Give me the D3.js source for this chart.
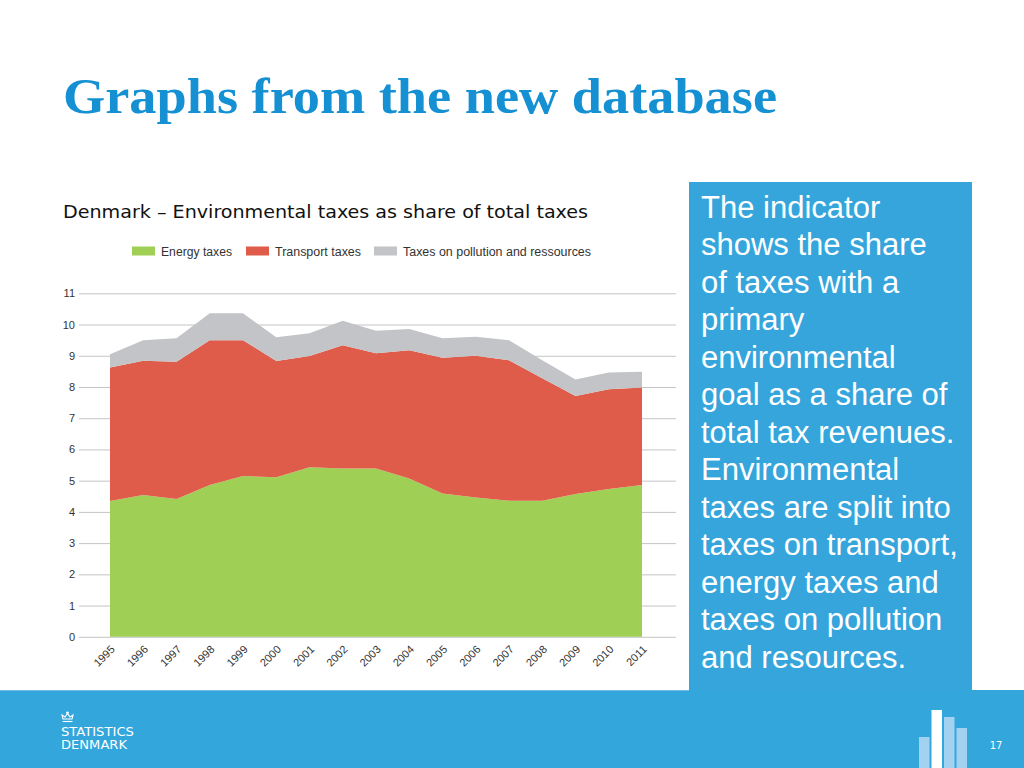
<!DOCTYPE html>
<html>
<head>
<meta charset="utf-8">
<script src="https://cdn.jsdelivr.net/npm/d3@7"></script>
<style>
  html, body { margin: 0; padding: 0; background: #fff; }
  svg { display: block; }
</style>
</head>
<body>
<svg id="chart" width="1024" height="768"></svg>
<script>
// ---------- DATA ----------
const years = [1995, 1996, 1997, 1998, 1999, 2000, 2001, 2002, 2003, 2004, 2005, 2006, 2007, 2008, 2009, 2010, 2011];
const energyTaxes    = [4.35, 4.54, 4.41, 4.86, 5.15, 5.11, 5.43, 5.39, 5.39, 5.07, 4.59, 4.46, 4.36, 4.36, 4.57, 4.73, 4.86];
const transportTaxes = [4.27, 4.30, 4.40, 4.64, 4.35, 3.72, 3.56, 3.95, 3.69, 4.11, 4.35, 4.54, 4.50, 3.92, 3.14, 3.20, 3.12];
const pollutionTaxes = [0.43, 0.66, 0.75, 0.86, 0.86, 0.76, 0.73, 0.78, 0.72, 0.68, 0.62, 0.61, 0.64, 0.58, 0.53, 0.53, 0.51];
const seriesNames = ["Energy taxes", "Transport taxes", "Taxes on pollution and ressources"];
const seriesColors = ["#a0cf55", "#e05c4a", "#c3c4c8"];
const yTicks = [0, 1, 2, 3, 4, 5, 6, 7, 8, 9, 10, 11];
const titleText = "Graphs from the new database";
const subtitleText = "Denmark \u2013 Environmental taxes as share of total taxes";
const panelLines = [
  "The indicator", "shows the share", "of taxes with a", "primary",
  "environmental", "goal as a share of", "total tax revenues.", "Environmental",
  "taxes are split into", "taxes on transport,", "energy taxes and",
  "taxes on pollution", "and resources."
];
const pageNumber = "17";

// ---------- SETUP ----------
const svg = d3.select("#chart");
svg.append("rect").attr("width", 1024).attr("height", 768).attr("fill", "#ffffff");

function fitWidth(sel, w) {
  sel.attr("textLength", w).attr("lengthAdjust", "spacingAndGlyphs");
}

// Title
svg.append("text")
  .attr("x", 63).attr("y", 113)
  .attr("font-family", "'Liberation Serif', 'DejaVu Serif', serif")
  .attr("font-weight", "bold").attr("font-size", 50)
  .attr("fill", "#1590d2")
  .text(titleText)
  .call(fitWidth, 714);

// Subtitle
svg.append("text")
  .attr("x", 63).attr("y", 218)
  .attr("font-family", "'DejaVu Sans Condensed', 'Liberation Sans Narrow', 'Open Sans', sans-serif")
  .attr("font-stretch", "condensed")
  .attr("font-size", 17).attr("fill", "#111")
  .text(subtitleText)
  .call(fitWidth, 525);

// ---------- CHART ----------
const x = d3.scaleLinear().domain([years[0], years[years.length - 1]]).range([110, 642]);
const y = d3.scaleLinear().domain([0, 11]).range([636.8, 293.3]);

const table = years.map((yr, i) => ({
  year: yr,
  [seriesNames[0]]: energyTaxes[i],
  [seriesNames[1]]: transportTaxes[i],
  [seriesNames[2]]: pollutionTaxes[i]
}));
const stacked = d3.stack().keys(seriesNames)(table);

// Gridlines via axis
const yAxis = d3.axisLeft(y).tickValues(yTicks).tickSize(-597).tickPadding(4).tickFormat(d3.format("d"));
const gy = svg.append("g").attr("transform", "translate(79,0)").call(yAxis);
gy.select(".domain").remove();
gy.selectAll(".tick line").attr("stroke", "#c4c4c4").attr("stroke-width", 1);
gy.selectAll(".tick text")
  .attr("font-family", "'Liberation Sans', Arial, sans-serif")
  .attr("font-size", 11).attr("fill", "#333").attr("x", -4);

// Areas
const area = d3.area()
  .x((d, i) => x(years[i]))
  .y0(d => y(d[0]))
  .y1(d => y(d[1]));
svg.append("g").selectAll("path")
  .data(stacked)
  .join("path")
  .attr("d", area)
  .attr("fill", (d, i) => seriesColors[i]);

// X axis labels
const xAxis = d3.axisBottom(x).tickValues(years).tickSize(0).tickFormat(d3.format("d"));
const gx = svg.append("g").attr("transform", "translate(0,637)").call(xAxis);
gx.select(".domain").remove();
gx.selectAll(".tick text")
  .attr("font-family", "'Liberation Sans', Arial, sans-serif")
  .attr("font-size", 11).attr("fill", "#333")
  .attr("text-anchor", "end")
  .attr("dy", null).attr("y", 0)
  .attr("transform", "translate(5,13) rotate(-45)");

// Legend
const legendX = [132, 246, 374];
const legendTextW = [71, 86, 188];
const lg = svg.append("g");
seriesNames.forEach((name, i) => {
  lg.append("rect").attr("x", legendX[i]).attr("y", 246.5).attr("width", 23).attr("height", 9)
    .attr("fill", seriesColors[i]);
  lg.append("text").attr("x", legendX[i] + 29).attr("y", 255.5)
    .attr("font-family", "'Liberation Sans', Arial, sans-serif")
    .attr("font-size", 12).attr("fill", "#333").text(name)
    .call(fitWidth, legendTextW[i]);
});

// ---------- RIGHT PANEL ----------
svg.append("rect").attr("x", 689).attr("y", 182).attr("width", 283).attr("height", 510)
  .attr("fill", "#35a5dc");
const pt = svg.append("g");
panelLines.forEach((line, i) => {
  pt.append("text").attr("x", 701).attr("y", 217.7 + i * 37.5)
    .attr("font-family", "'Liberation Sans', Arial, sans-serif")
    .attr("font-size", 31).attr("fill", "#ffffff").text(line);
});

// ---------- FOOTER ----------
svg.append("rect").attr("x", 0).attr("y", 690).attr("width", 1024).attr("height", 78).attr("fill", "#33a6dc");
svg.append("line").attr("x1", 0).attr("x2", 689).attr("y1", 690.5).attr("y2", 690.5)
  .attr("stroke", "#6fbde6").attr("stroke-width", 1);

// logo crown
const crown = svg.append("g").attr("transform", "translate(61,712)").attr("fill", "none").attr("stroke", "#fff").attr("stroke-width", 1.1);
crown.append("path").attr("d", "M2,7 L1,3 L4,5 L6.5,1.5 L9,5 L12,3 L11,7 Z");
crown.append("line").attr("x1", 1.5).attr("x2", 11.5).attr("y1", 9.5).attr("y2", 9.5);
crown.append("circle").attr("cx", 6.5).attr("cy", 0.8).attr("r", 0.8).attr("fill", "#fff");

svg.append("text").attr("x", 61).attr("y", 736)
  .attr("font-family", "'DejaVu Sans Condensed', 'DejaVu Sans', sans-serif").attr("font-size", 12.5).attr("fill", "#fff")
  .text("STATISTICS").call(fitWidth, 73);
svg.append("text").attr("x", 61).attr("y", 749)
  .attr("font-family", "'DejaVu Sans Condensed', 'DejaVu Sans', sans-serif").attr("font-size", 12.5).attr("fill", "#fff")
  .text("DENMARK").call(fitWidth, 66);

// bars icon
const barsX = [919, 931.5, 944, 956.5];
const barsTop = [737, 710, 717, 728];
const barsFill = ["#a3d2f0", "#ffffff", "#a3d2f0", "#a3d2f0"];
barsX.forEach((bx, i) => {
  svg.append("rect").attr("x", bx).attr("y", barsTop[i]).attr("width", 10.5).attr("height", 768 - barsTop[i])
    .attr("fill", barsFill[i]);
});

svg.append("text").attr("x", 996).attr("y", 749).attr("text-anchor", "middle")
  .attr("font-family", "'DejaVu Sans Condensed', 'DejaVu Sans', sans-serif").attr("font-size", 11).attr("fill", "#fff")
  .text(pageNumber);
</script>
</body>
</html>
